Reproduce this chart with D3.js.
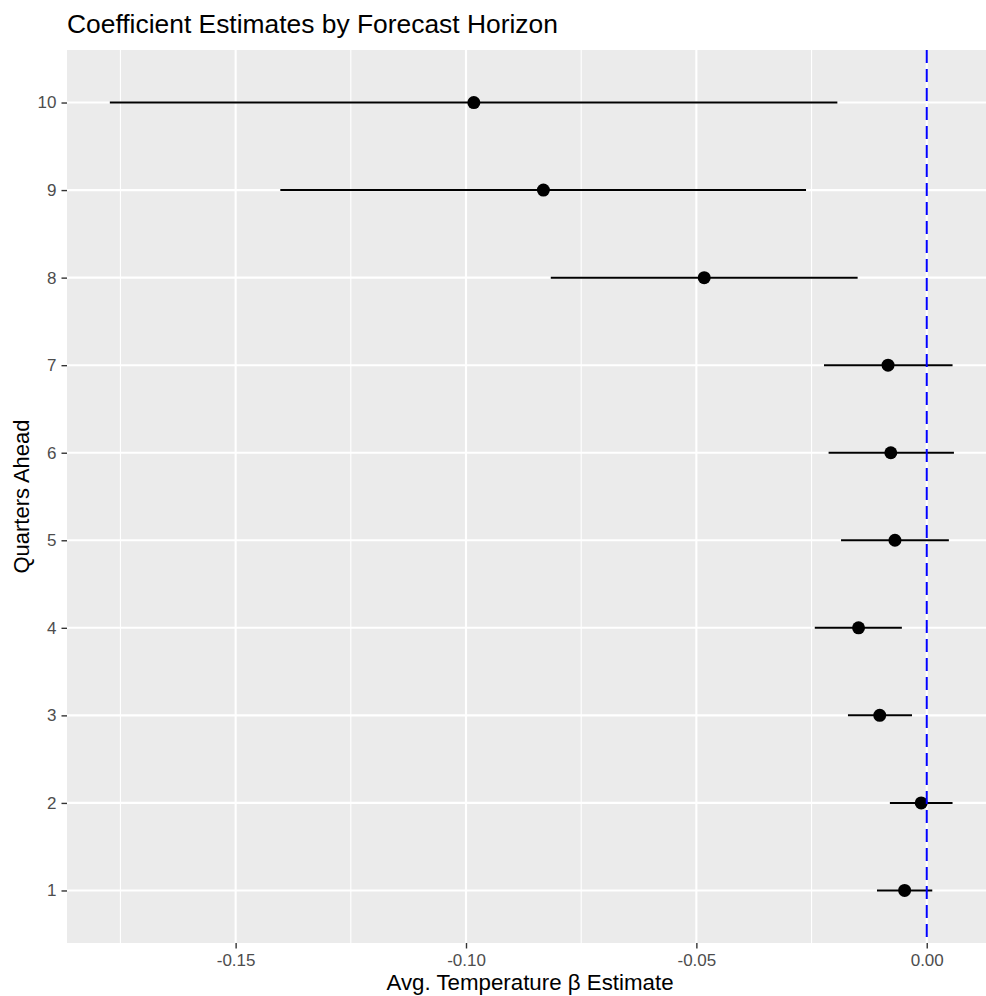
<!DOCTYPE html>
<html>
<head>
<meta charset="utf-8">
<script src="https://cdn.jsdelivr.net/npm/d3@7"></script>
<style>
  html, body { margin: 0; padding: 0; background: #fff; }
  svg { display: block; font-family: "Liberation Sans", Arial, sans-serif; }
</style>
</head>
<body>
<script>
// ---- data ----
const quarters  = [1, 2, 3, 4, 5, 6, 7, 8, 9, 10];
const estimates = [-0.0048, -0.0012, -0.0102, -0.0148, -0.0069, -0.0078, -0.0084, -0.0483, -0.0832, -0.0983];
const lowerCI   = [-0.0108, -0.0080, -0.0171, -0.0243, -0.0186, -0.0213, -0.0223, -0.0816, -0.1403, -0.1773];
const upperCI   = [0.0012, 0.0056, -0.0032, -0.0054, 0.0048, 0.0059, 0.0056, -0.0150, -0.0262, -0.0194];
const xMajorTicks = [-0.15, -0.10, -0.05, 0.00];
const xMinorTicks = [-0.175, -0.125, -0.075, -0.025];
const refLine = 0;

const rows = quarters.map((q, i) => ({ q, est: estimates[i], lo: lowerCI[i], hi: upperCI[i] }));

const W = 986, H = 996;
const panel = { left: 67, top: 50, right: 1000, bottom: 943 };

const svg = d3.select("body").append("svg").attr("width", W).attr("height", H);

const x = d3.scaleLinear().domain([-0.1866, 0.0159]).range([panel.left, panel.right]);
const y = d3.scalePoint().domain(quarters.slice().reverse()).range([panel.top, panel.bottom]).padding(0.6);

// panel background
svg.append("rect")
  .attr("x", panel.left).attr("y", panel.top)
  .attr("width", panel.right - panel.left).attr("height", panel.bottom - panel.top)
  .attr("fill", "#EBEBEB");

const g = svg.append("g");

// minor grid
g.selectAll(".minor").data(xMinorTicks).join("line")
  .attr("x1", d => x(d)).attr("x2", d => x(d))
  .attr("y1", panel.top).attr("y2", panel.bottom)
  .attr("stroke", "#fff").attr("stroke-width", 1.1);

// major grid
g.selectAll(".majorx").data(xMajorTicks).join("line")
  .attr("x1", d => x(d)).attr("x2", d => x(d))
  .attr("y1", panel.top).attr("y2", panel.bottom)
  .attr("stroke", "#fff").attr("stroke-width", 2.1);
g.selectAll(".majory").data(quarters).join("line")
  .attr("x1", panel.left).attr("x2", panel.right)
  .attr("y1", d => y(d)).attr("y2", d => y(d))
  .attr("stroke", "#fff").attr("stroke-width", 2.1);

// error bars
g.selectAll(".err").data(rows).join("line")
  .attr("x1", d => x(d.lo)).attr("x2", d => x(d.hi))
  .attr("y1", d => y(d.q)).attr("y2", d => y(d.q))
  .attr("stroke", "#000").attr("stroke-width", 2);

// points
g.selectAll(".pt").data(rows).join("circle")
  .attr("cx", d => x(d.est)).attr("cy", d => y(d.q))
  .attr("r", 6.5).attr("fill", "#000");

// reference line
g.append("line")
  .attr("x1", x(refLine)).attr("x2", x(refLine))
  .attr("y1", panel.top).attr("y2", panel.bottom)
  .attr("stroke", "#0000FF").attr("stroke-width", 2)
  .attr("stroke-dasharray", "13,6");

// x axis
const xAxis = svg.append("g").attr("transform", `translate(0,${panel.bottom})`)
  .call(d3.axisBottom(x).tickValues(xMajorTicks).tickFormat(d3.format(".2f")).tickSize(5.5).tickPadding(5));
xAxis.select(".domain").remove();
xAxis.selectAll(".tick line").attr("stroke", "#333333").attr("stroke-width", 1.4);
xAxis.selectAll(".tick text").attr("fill", "#4D4D4D").attr("font-size", 17)
  .attr("font-family", "Liberation Sans, Arial, sans-serif")
  .text(d => d3.format(".2f")(d).replace("−", "-"));

// y axis
const yAxis = svg.append("g").attr("transform", `translate(${panel.left},0)`)
  .call(d3.axisLeft(y).tickSize(5.5).tickPadding(5));
yAxis.select(".domain").remove();
yAxis.selectAll(".tick line").attr("stroke", "#333333").attr("stroke-width", 1.4);
yAxis.selectAll(".tick text").attr("fill", "#4D4D4D").attr("font-size", 17)
  .attr("font-family", "Liberation Sans, Arial, sans-serif");

// titles
svg.append("text")
  .attr("x", panel.left).attr("y", 33)
  .attr("font-size", 26.4).attr("fill", "#000")
  .text("Coefficient Estimates by Forecast Horizon");

svg.append("text")
  .attr("x", 530).attr("y", 990)
  .attr("text-anchor", "middle")
  .attr("font-size", 22.3).attr("fill", "#000")
  .text("Avg. Temperature β Estimate");

svg.append("text")
  .attr("transform", `translate(28.5,${(panel.top + panel.bottom) / 2}) rotate(-90)`)
  .attr("text-anchor", "middle")
  .attr("font-size", 22).attr("fill", "#000")
  .text("Quarters Ahead");
</script>
</body>
</html>
